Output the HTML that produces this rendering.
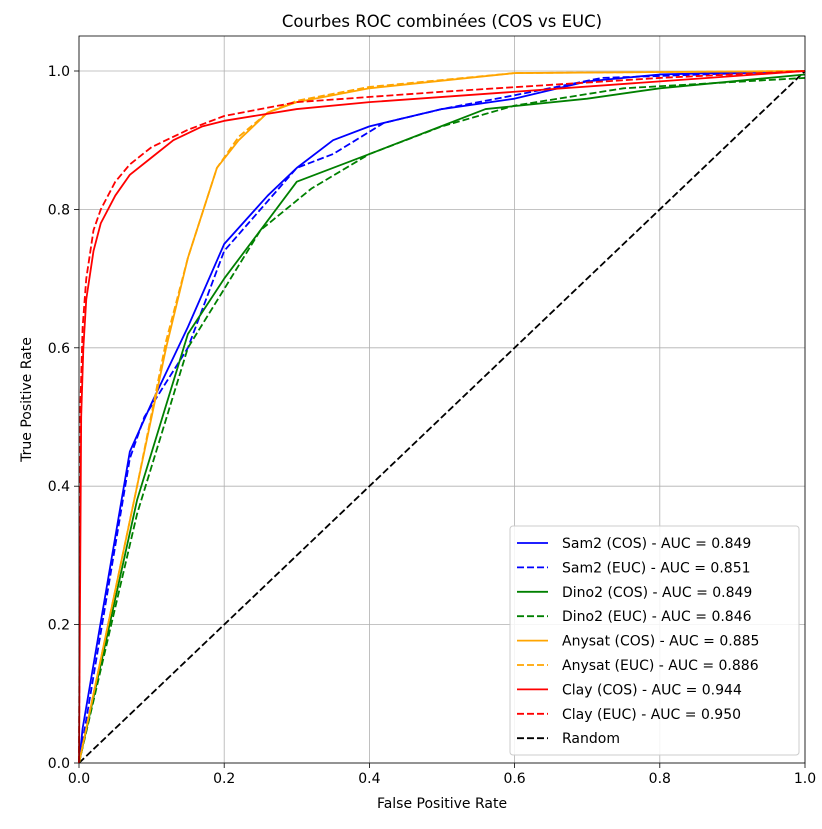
<!DOCTYPE html>
<html><head><meta charset="utf-8"><style>
body{margin:0;background:#fff;font-family:"Liberation Sans","DejaVu Sans",sans-serif;}
</style></head><body>
<svg id="chart" width="822" height="824" xmlns="http://www.w3.org/2000/svg" font-family="DejaVu Sans, Liberation Sans, sans-serif"></svg>
<script>
const seriesNames=["Sam2 (COS) - AUC = 0.849","Sam2 (EUC) - AUC = 0.851","Dino2 (COS) - AUC = 0.849","Dino2 (EUC) - AUC = 0.846","Anysat (COS) - AUC = 0.885","Anysat (EUC) - AUC = 0.886","Clay (COS) - AUC = 0.944","Clay (EUC) - AUC = 0.950","Random"];
const seriesColors=["#0000ff","#0000ff","#008000","#008000","#ffa500","#ffa500","#ff0000","#ff0000","#000000"];
const seriesDashed=[false,true,false,true,false,true,false,true,true];
const sam2Cos=[[0,0],[0.005,0.05],[0.07,0.45],[0.1,0.52],[0.15,0.63],[0.2,0.75],[0.26,0.82],[0.3,0.86],[0.35,0.9],[0.4,0.92],[0.5,0.945],[0.6,0.96],[0.7,0.985],[0.8,0.995],[1,1]];
const sam2Euc=[[0,0],[0.07,0.44],[0.09,0.5],[0.15,0.6],[0.2,0.74],[0.25,0.8],[0.3,0.86],[0.35,0.88],[0.42,0.925],[0.5,0.945],[0.6,0.965],[0.72,0.99],[1,1]];
const dino2Cos=[[0,0],[0.08,0.38],[0.15,0.62],[0.2,0.7],[0.3,0.84],[0.4,0.88],[0.56,0.945],[0.7,0.96],[0.8,0.975],[1,0.995]];
const dino2Euc=[[0,0],[0.08,0.36],[0.15,0.6],[0.25,0.77],[0.32,0.83],[0.4,0.88],[0.5,0.92],[0.6,0.95],[0.75,0.975],[1,0.99]];
const anysatCos=[[0,0],[0.04,0.2],[0.08,0.4],[0.12,0.6],[0.15,0.73],[0.19,0.86],[0.22,0.9],[0.26,0.94],[0.3,0.955],[0.4,0.975],[0.6,0.997],[1,1]];
const anysatEuc=[[0,0],[0.04,0.2],[0.08,0.4],[0.12,0.61],[0.15,0.73],[0.19,0.86],[0.22,0.905],[0.26,0.94],[0.3,0.957],[0.4,0.977],[0.6,0.997],[1,1]];
const clayCos=[[0,0],[0.003,0.5],[0.006,0.6],[0.01,0.67],[0.02,0.74],[0.03,0.78],[0.05,0.82],[0.07,0.85],[0.1,0.875],[0.13,0.9],[0.17,0.92],[0.2,0.928],[0.3,0.945],[0.4,0.955],[0.6,0.97],[0.8,0.985],[1,1]];
const clayEuc=[[0,0],[0.002,0.52],[0.005,0.63],[0.01,0.7],[0.02,0.77],[0.03,0.8],[0.05,0.84],[0.07,0.865],[0.1,0.89],[0.15,0.915],[0.2,0.935],[0.3,0.955],[0.5,0.97],[0.8,0.99],[1,1]];
const randomLine=[[0,0],[1,1]];
const allSeries=[sam2Cos,sam2Euc,dino2Cos,dino2Euc,anysatCos,anysatEuc,clayCos,clayEuc,randomLine];
const xTicks=[0,0.2,0.4,0.6,0.8,1.0];
const yTicks=[0,0.2,0.4,0.6,0.8,1.0];

const svg=document.getElementById('chart');
const NS="http://www.w3.org/2000/svg";
const X0=79,X1=805,Y0=763,Y1=71;
const sx=v=>X0+(X1-X0)*v, sy=v=>Y0-(Y0-Y1)*v;
function mk(tag,attrs,parent){const e=document.createElementNS(NS,tag);for(const k in attrs)e.setAttribute(k,attrs[k]);(parent||svg).appendChild(e);return e;}

const plotBg=mk('rect',{x:X0,y:36,width:X1-X0,height:Y0-36,fill:'#fff'});


xTicks.forEach(t=>{
 const g=mk('line',{x1:sx(t),x2:sx(t),y1:36,y2:Y0,stroke:'#b0b0b0','stroke-width':0.8});
 
 
 mk('line',{x1:sx(t),x2:sx(t),y1:Y0,y2:Y0+5,stroke:'#000','stroke-width':0.8});
 const l=mk('text',{x:sx(t),y:Y0+20,'text-anchor':'middle','font-size':14,fill:'#000'});
 l.textContent=t.toFixed(1);
 
 
});
yTicks.forEach(t=>{
 const g=mk('line',{x1:X0,x2:X1,y1:sy(t),y2:sy(t),stroke:'#b0b0b0','stroke-width':0.8});
 
 
 mk('line',{x1:X0-5,x2:X0,y1:sy(t),y2:sy(t),stroke:'#000','stroke-width':0.8});
 const l=mk('text',{x:X0-9,y:sy(t)+5,'text-anchor':'end','font-size':14,fill:'#000'});
 l.textContent=t.toFixed(1);
 
 
});
const order=[8,0,1,2,3,4,5,6,7];
order.forEach(i=>{
 const p=mk('polyline',{points:allSeries[i].map(d=>sx(d[0])+','+sy(d[1])).join(' '),fill:'none',stroke:seriesColors[i],'stroke-width':1.8,'stroke-linejoin':'round','stroke-dasharray':seriesDashed[i]?'7,3':'none'});
 
 
});
const frame=mk('rect',{x:X0,y:36,width:X1-X0,height:Y0-36,fill:'none',stroke:'#000','stroke-width':0.8});


const title=mk('text',{x:(X0+X1)/2,y:27,'text-anchor':'middle','font-size':16.5,fill:'#000'});
title.textContent='Courbes ROC combinées (COS vs EUC)';


const xt=mk('text',{x:(X0+X1)/2,y:808,'text-anchor':'middle','font-size':14,fill:'#000'});
xt.textContent='False Positive Rate';


const yt=mk('text',{x:0,y:0,'text-anchor':'middle','font-size':14,fill:'#000',transform:'translate(31,'+((Y0+36)/2)+') rotate(-90)'});
yt.textContent='True Positive Rate';


const lg=mk('rect',{x:510,y:526,width:289,height:229,rx:3,fill:'#fff','fill-opacity':0.85,stroke:'#ccc','stroke-width':1});


seriesNames.forEach((n,i)=>{
 const y=543+i*24.4;
 mk('line',{x1:517,x2:548,y1:y,y2:y,stroke:seriesColors[i],'stroke-width':1.8,'stroke-dasharray':seriesDashed[i]?'7,3':'none'});
 const t=mk('text',{x:562,y:y+5,'font-size':14,fill:'#000'});
 t.textContent=n;
 
 
});
</script>
</body></html>
